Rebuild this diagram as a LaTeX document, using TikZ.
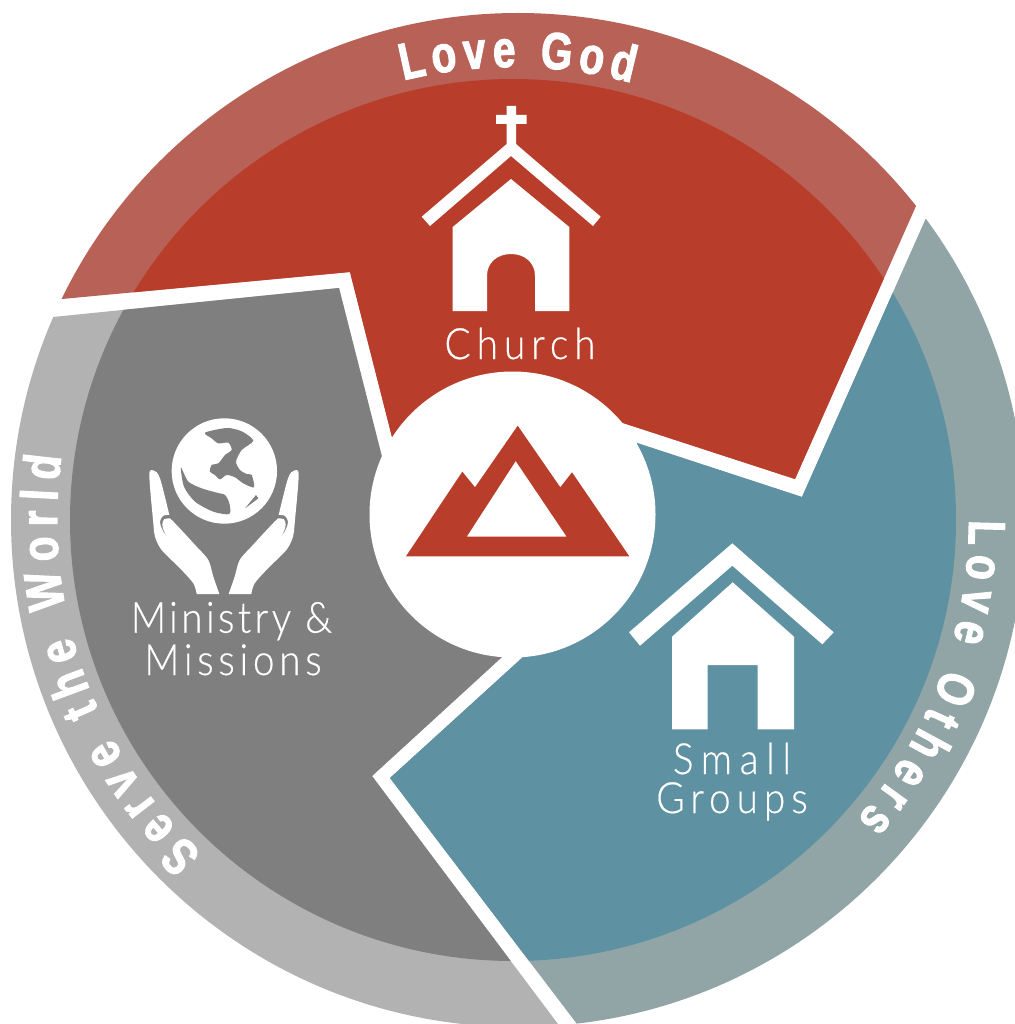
\documentclass[tikz,border=0pt]{standalone}
\usepackage{fontspec}
\usetikzlibrary{decorations.text}
\setmainfont{Liberation Sans}
\newfontfamily\labfontA[FakeStretch=0.9,LetterSpace=8,FakeBold=0.4]{Lato Light}
\newfontfamily\labfontD[FakeStretch=0.9,LetterSpace=11,FakeBold=0.4]{Lato Light}
\newfontfamily\labfontB[FakeStretch=0.9,LetterSpace=14,FakeBold=0.4]{Lato Light}
\newfontfamily\labfontC[FakeStretch=0.9,LetterSpace=18,FakeBold=0.4]{Lato Light}
\newfontfamily\arcfont[FakeStretch=0.78,FakeBold=2]{Liberation Sans Bold}
\definecolor{reddark}{HTML}{B83E2B}
\definecolor{redlight}{HTML}{B86156}
\definecolor{tealdark}{HTML}{5E91A1}
\definecolor{teallight}{HTML}{91A4A6}
\definecolor{graydark}{HTML}{7F7F7F}
\definecolor{graylight}{HTML}{B2B2B2}
\tikzset{
  lab/.style={anchor=base,text=white,inner sep=0pt,font=#1\fontsize{43}{43}\selectfont},
  arclab/.style={decorate,decoration={text along path,text align={fit to path},
     text={|\arcfont\fontsize{52}{52}\selectfont\color{white}|#1}}},
  ico/.style={fill=white,draw=none}
}
\newcommand{\wedgefill}[2]{%
  \fill[#1] (518,520) circle[radius=507pt];
  \fill[#2] (513,520) ellipse[x radius=443pt,y radius=441pt];}
\newcommand{\handshape}{%
  \fill[ico] (200,582) -- plot[smooth,tension=0.5] coordinates {(200,582) (190,550) (150,505) (95,450) (75,410) (70,370) (58,225) (72,212) (90,235) (118,345)}
   -- plot[smooth,tension=0.5] coordinates {(118,345) (100,347) (90,365) (100,395) (133,442)}
   -- plot[smooth,tension=0.5] coordinates {(133,442) (105,400) (97,375) (102,358) (120,355)}
   -- plot[smooth,tension=0.5] coordinates {(120,355) (140,375) (200,440) (235,480) (250,530) (268,582)} -- cycle;}
\begin{document}
\begin{tikzpicture}[x=1pt,y=-1pt]
\useasboundingbox (0,0) rectangle (1014,1024);
% red wedge
\begin{scope}
  \clip (62,299) -- (350,272) -- (392,437) -- (620,422) -- (795,479) -- (916,206) -- (1014,0) -- (0,0) -- (0,299) -- cycle;
  \wedgefill{redlight}{reddark}
\end{scope}
% gray wedge
\begin{scope}
  \clip (53,317) -- (339,288) -- (382,457) -- (502,657) -- (372,776) -- (558,1024) -- (570,1040) -- (0,1040) -- (0,317) -- cycle;
  \wedgefill{graylight}{graydark}
\end{scope}
% teal wedge
\begin{scope}
  \clip (926,218) -- (802,497) -- (637,443) -- (523,657) -- (390,778) -- (577,1024) -- (589,1040) -- (1030,1040) -- (1030,218) -- cycle;
  \wedgefill{teallight}{tealdark}
\end{scope}
% centre disc and mountain
\fill[white] (512.5,514.5) circle[radius=143pt];
\fill[reddark,even odd rule] (406,556.3) -- (462.3,471.7) -- (475,487.3) -- (517.7,425.7) -- (560.3,487.3) -- (572,472.3) -- (629.3,556.3) -- cycle
  (515.7,461) -- (466.7,536.7) -- (566.7,536.7) -- cycle;
% church
\fill[ico] (506.7,106) -- (516,106) -- (516,115) -- (526.7,115) -- (526.7,124) -- (516,124) -- (516,144) -- (600.7,216.7) -- (593,226) -- (511,156) -- (430,226) -- (421.7,216.7) -- (506.7,144) -- (506.7,124) -- (496,124) -- (496,115) -- (506.7,115) -- cycle;
\fill[ico] (511,179) -- (452.7,227) -- (452.7,311) -- (487,311) -- (487,276) .. controls (487,262) and (498,254) .. (511,254) .. controls (524,254) and (535,262) .. (535,276) -- (535,311) -- (569.3,311) -- (569.3,227) -- cycle;
% house
\fill[ico] (732.3,543.3) -- (833.7,632.3) -- (822.3,644.3) -- (732.3,565.7) -- (640,645.7) -- (629,632.3) -- cycle;
\fill[ico] (732.7,582.3) -- (672,636.7) -- (672,729.3) -- (707.7,729.3) -- (707.7,665) -- (757.7,665) -- (757.7,729.3) -- (794,729.3) -- (794,636.7) -- cycle;
% globe and hands
\begin{scope}[shift={(130,400)},x=0.33333pt,y=-0.33333pt]
  \fill[ico] (283,213) circle[radius=52.7pt];
  \handshape
  \fill[graydark] plot[smooth cycle,tension=0.45] coordinates {(225,98) (290,84) (335,94) (370,122) (335,150) (318,185) (330,210) (350,222) (365,225) (372,262) (340,250) (315,232) (290,225) (270,238) (255,225) (240,215) (245,195) (265,190) (285,165) (305,150) (295,128) (265,130) (245,115)};
  \fill[graydark] plot[smooth cycle,tension=0.45] coordinates {(153,203) (175,245) (215,265) (260,278) (285,285) (298,310) (298,342) (250,335) (195,305) (162,260)};
  \fill[graydark] (378,285) -- (345,325) -- (385,295) -- cycle;
\end{scope}
\begin{scope}[shift={(318,400)},x=-0.33333pt,y=-0.33333pt]
  \handshape
\end{scope}
% labels
\node[lab=\labfontB] (church) at (520,359) {Church};
\node[lab=\labfontA] (ministry) at (231.5,632.7) {Ministry \&};
\node[lab=\labfontD] (missions) at (233,675) {Missions};
\node[lab=\labfontC] (small) at (732,774) {Small};
\node[lab=\labfontB] (groups) at (732,813) {Groups};
% curved labels
\begin{scope}[shift={(513,520)}]
  \path[arclab={Love God}] (104:453pt) arc[start angle=104,end angle=74.8,radius=453pt];
  \path[arclab={Love Others}] (0:456pt) arc[start angle=0,end angle=-41,radius=456pt];
  \path[arclab={Serve the World}] (227:456pt) arc[start angle=227,end angle=172,radius=456pt];
\end{scope}
\end{tikzpicture}
\end{document}
